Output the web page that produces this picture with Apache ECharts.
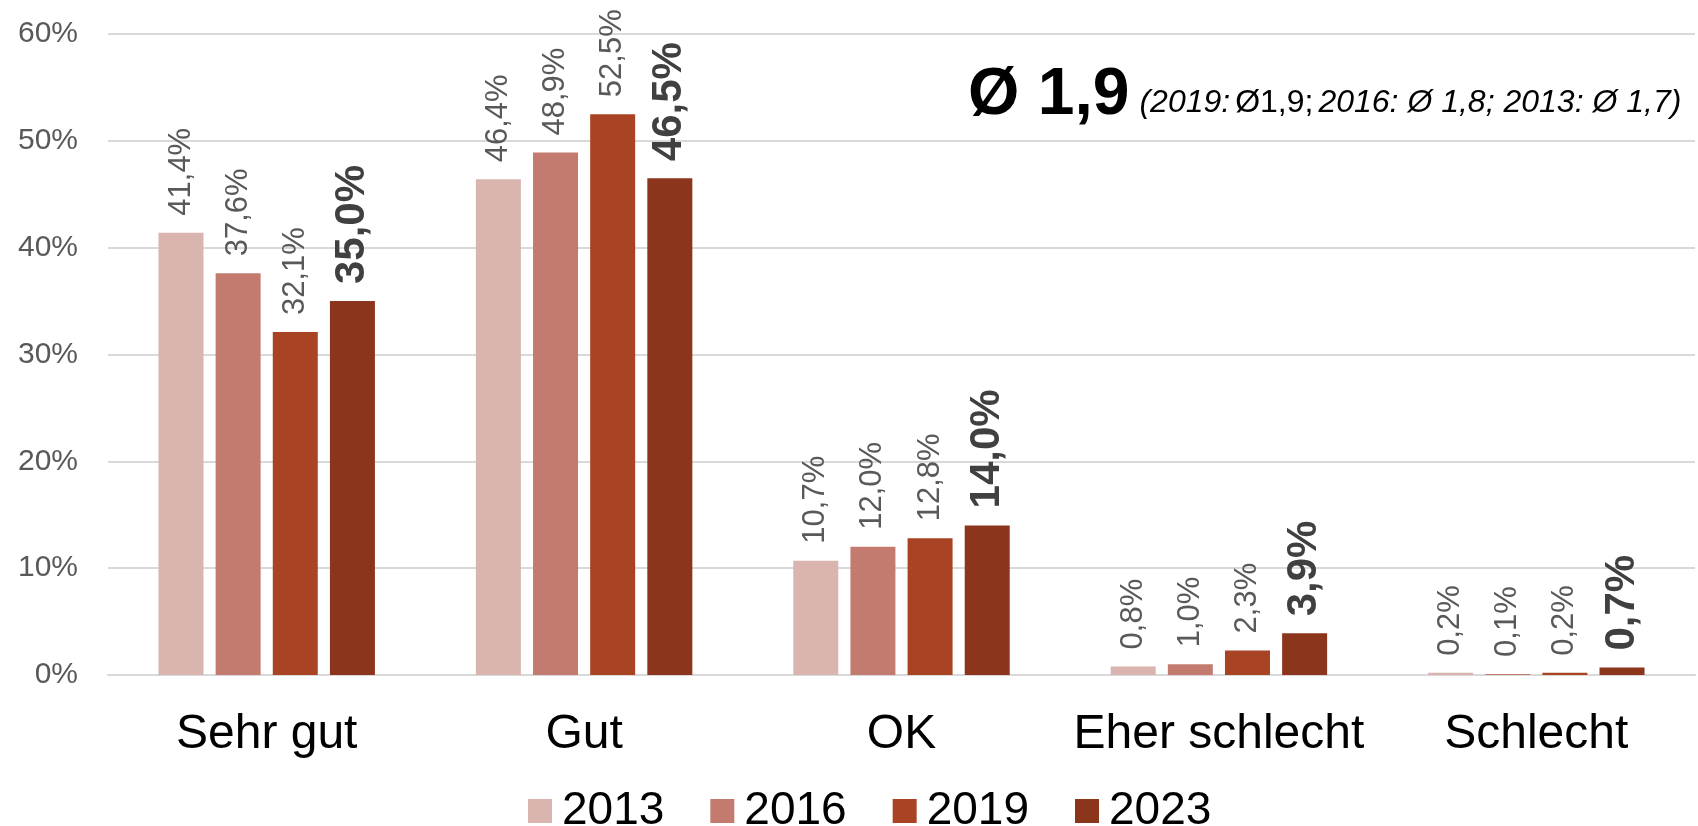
<!DOCTYPE html>
<html>
<head>
<meta charset="utf-8">
<script src="https://cdn.jsdelivr.net/npm/echarts@6/dist/echarts.min.js"></script>
<style>
html, body { margin: 0; padding: 0; background: #fff; }
#main { width: 1698px; height: 826px; }
</style>
</head>
<body>
<div id="main"></div>
<script>
var categories = ['Sehr gut', 'Gut', 'OK', 'Eher schlecht', 'Schlecht'];
var years = ['2013', '2016', '2019', '2023'];
var data2013 = [41.4, 46.4, 10.7, 0.8, 0.2];
var data2016 = [37.6, 48.9, 12.0, 1.0, 0.1];
var data2019 = [32.1, 52.5, 12.8, 2.3, 0.2];
var data2023 = [35.0, 46.5, 14.0, 3.9, 0.7];
var colors = ['#DAB4AE', '#C47B6F', '#A84424', '#8B351D'];

var font = '"Liberation Sans", Arial, sans-serif';

function pct(p) {
	return p.value.toFixed(1).replace('.', ',') + '%';
}

function makeSeries(name, values, idx) {
	var last = idx === 3;
	return {
		name: name,
		type: 'bar',
		data: values,
		barWidth: 45,
		barGap: '27%',
		itemStyle: { color: colors[idx] },
		label: {
			show: true,
			position: 'top',
			rotate: 90,
			align: 'left',
			verticalAlign: 'middle',
			distance: 17,
			formatter: pct,
			fontFamily: font,
			fontSize: last ? 42 : 31,
			fontWeight: last ? 'bold' : 'normal',
			color: last ? '#404040' : '#595959'
		}
	};
}

var myChart = echarts.init(document.getElementById('main'));
var option = {
	animation: false,
	color: colors,
	textStyle: { fontFamily: font },
	title: {
		text: '{big|Ø 1,9}  {it|(2019:} {up|Ø1,9;} {it|2016: Ø 1,8; 2013: Ø 1,7)}',
		left: 968,
		top: 63,
		padding: 0,
		textStyle: {
			fontWeight: 'normal',
			rich: {
				big: { fontSize: 66, fontWeight: 'bold', color: '#000', fontFamily: font },
				it: { fontSize: 32, fontStyle: 'italic', fontWeight: 'normal', color: '#000', fontFamily: font, padding: [14, 0, 0, 0] },
				up: { fontSize: 32, fontWeight: 'normal', color: '#000', fontFamily: font, padding: [14, 0, 0, 0] }
			}
		}
	},
	legend: {
		data: years,
		top: 783,
		left: 523,
		itemWidth: 24,
		itemHeight: 24,
		itemGap: 46,
		icon: 'rect',
		textStyle: { fontSize: 46, color: '#000', fontFamily: font, padding: [0, 0, 0, 5] }
	},
	grid: {
		left: 108,
		right: 3,
		top: 34,
		bottom: 151,
		containLabel: false
	},
	xAxis: {
		type: 'category',
		data: categories,
		axisTick: { show: false },
		axisLine: { lineStyle: { color: '#D9D9D9', width: 2 } },
		axisLabel: { interval: 0, fontSize: 48, color: '#000', margin: 36, fontFamily: font }
	},
	yAxis: {
		type: 'value',
		min: 0,
		max: 60,
		interval: 10,
		axisLine: { show: false },
		axisTick: { show: false },
		splitLine: { lineStyle: { color: '#D9D9D9', width: 2 } },
		axisLabel: { formatter: '{value}%', fontSize: 30, color: '#595959', margin: 30, fontFamily: font }
	},
	series: [
		makeSeries(years[0], data2013, 0),
		makeSeries(years[1], data2016, 1),
		makeSeries(years[2], data2019, 2),
		makeSeries(years[3], data2023, 3)
	]
};
myChart.setOption(option);
</script>
</body>
</html>
